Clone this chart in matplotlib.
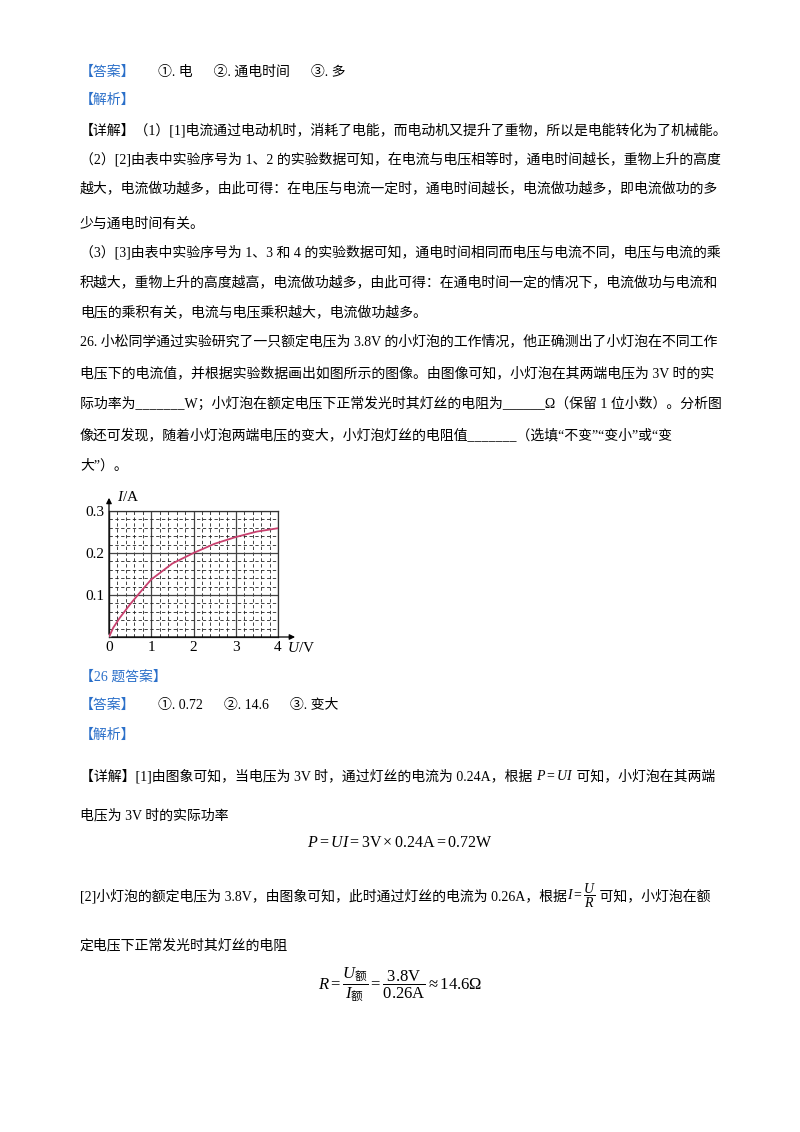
import matplotlib
matplotlib.use("Agg")
import matplotlib.pyplot as plt
import numpy as np

plt.rcParams['font.family'] = ['Liberation Serif', 'Noto Sans CJK SC', 'DejaVu Sans']
plt.rcParams['mathtext.fontset'] = 'custom'
plt.rcParams['mathtext.rm'] = 'Liberation Serif'
plt.rcParams['mathtext.it'] = 'Liberation Serif:italic'
plt.rcParams['mathtext.sf'] = 'Noto Sans CJK SC'

# curve
voltage = [0, 0.1, 0.25, 0.5, 0.75, 1.0, 1.5, 2.0, 2.5, 3.0, 3.5, 4.0]
current = [0, 0.022, 0.045, 0.078, 0.108, 0.137, 0.175, 0.200, 0.222, 0.238, 0.251, 0.259]
x_ticks = [0, 1, 2, 3, 4]
y_ticks = [0.1, 0.2, 0.3]

W, H = 800, 1132
fig = plt.figure(figsize=(W / 100, H / 100), dpi=100)
renderer = fig.canvas.get_renderer()
BLUE = '#2a6fc9'
FS = 10


def put(x, y, s, color='black', size=FS, ha='left'):
    return fig.text(x / W, 1 - y / H, s, color=color, fontsize=size, ha=ha, va='center')


def put_run(x, y, parts, size=FS):
    # draw text pieces one after another on the same line
    for s in parts:
        t = put(x, y, s, size=size)
        x += t.get_window_extent(renderer).width


put(80, 72, '【答案】', BLUE)
put(158, 72, '①. 电      ②. 通电时间      ③. 多')
put(80, 100, '【解析】', BLUE)
lines = [
    (130, '【详解】（1）[1]电流通过电动机时，消耗了电能，而电动机又提升了重物，所以是电能转化为了机械能。'),
    (159, '（2）[2]由表中实验序号为 1、2 的实验数据可知，在电流与电压相等时，通电时间越长，重物上升的高度'),
    (188, '越大，电流做功越多，由此可得：在电压与电流一定时，通电时间越长，电流做功越多，即电流做功的多'),
    (224, '少与通电时间有关。'),
    (252, '（3）[3]由表中实验序号为 1、3 和 4 的实验数据可知，通电时间相同而电压与电流不同，电压与电流的乘'),
    (282, '积越大，重物上升的高度越高，电流做功越多，由此可得：在通电时间一定的情况下，电流做功与电流和'),
    (312, '电压的乘积有关，电流与电压乘积越大，电流做功越多。'),
    (341, '26. 小松同学通过实验研究了一只额定电压为 3.8V 的小灯泡的工作情况，他正确测出了小灯泡在不同工作'),
    (373, '电压下的电流值，并根据实验数据画出如图所示的图像。由图像可知，小灯泡在其两端电压为 3V 时的实'),
    (404, '际功率为_______W；小灯泡在额定电压下正常发光时其灯丝的电阻为______Ω（保留 1 位小数）。分析图'),
    (436, '像还可发现，随着小灯泡两端电压的变大，小灯泡灯丝的电阻值_______（选填“不变”“变小”或“变'),
    (466, '大”）。'),
]
for y, s in lines:
    put(80, y, s)

put(80, 677, '【26 题答案】', BLUE)
put(80, 705, '【答案】', BLUE)
put(158, 705, '①. 0.72      ②. 14.6      ③. 变大')
put(80, 735, '【解析】', BLUE)
put_run(80, 776, ['【详解】[1]由图象可知，当电压为 3V 时，通过灯丝的电流为 0.24A，根据 ',
                  r'$P=UI$', ' 可知，小灯泡在其两端'])
put(80, 816, '电压为 3V 时的实际功率')
put(400, 843, r'$P=UI=3\mathrm{V}\times 0.24\mathrm{A}{=}0.72\mathrm{W}$', ha='center', size=11.5)
put_run(80, 896, ['[2]小灯泡的额定电压为 3.8V，由图象可知，此时通过灯丝的电流为 0.26A，根据',
                  r'$I=\dfrac{U}{R}$', ' 可知，小灯泡在额'])
put(80, 946, '定电压下正常发光时其灯丝的电阻')
put(400, 985, r'$R=\dfrac{U_{\mathsf{额}}}{I_{\mathsf{额}}}=\dfrac{3.8\mathrm{V}}{0.26\mathrm{A}}\approx 14.6\Omega$',
    ha='center', size=12)

# the I-U chart
ax = fig.add_axes([109 / W, 1 - 637 / H, 169 / W, 126 / H])
ax.set_xlim(0, 4)
ax.set_ylim(0, 0.3)
ax.set_xticks(np.arange(0, 4.01, 0.2), minor=True)
ax.set_yticks(np.arange(0, 0.301, 0.02), minor=True)
ax.set_xticks(x_ticks)
ax.set_yticks(y_ticks)
ax.grid(which='minor', color='#222222', linestyle=(0, (4, 3)), linewidth=0.6)
ax.grid(which='major', color='#444444', linestyle='-', linewidth=0.9)
ax.tick_params(which='both', length=0, labelsize=11, pad=3)
ax.set_xticklabels([str(v) for v in x_ticks])
ax.set_yticklabels([f'{v:.1f}' for v in y_ticks])
for sp in ax.spines.values():
    sp.set_linewidth(0.9)
    sp.set_color('#333333')
ax.plot(voltage, current, color='#c8406e', linewidth=1.3, zorder=5)
ax.annotate('', xy=(0, 0.338), xytext=(0, 0), annotation_clip=False,
            arrowprops=dict(arrowstyle='-|>', color='black', lw=0.9, mutation_scale=8))
ax.annotate('', xy=(4.47, 0), xytext=(0, 0), annotation_clip=False,
            arrowprops=dict(arrowstyle='-|>', color='black', lw=0.9, mutation_scale=8))
put(117, 497, '$I$/A', size=11)
put(287, 648, '$U$/V', size=11)

fig.savefig('out.png', dpi=100, facecolor='white')
